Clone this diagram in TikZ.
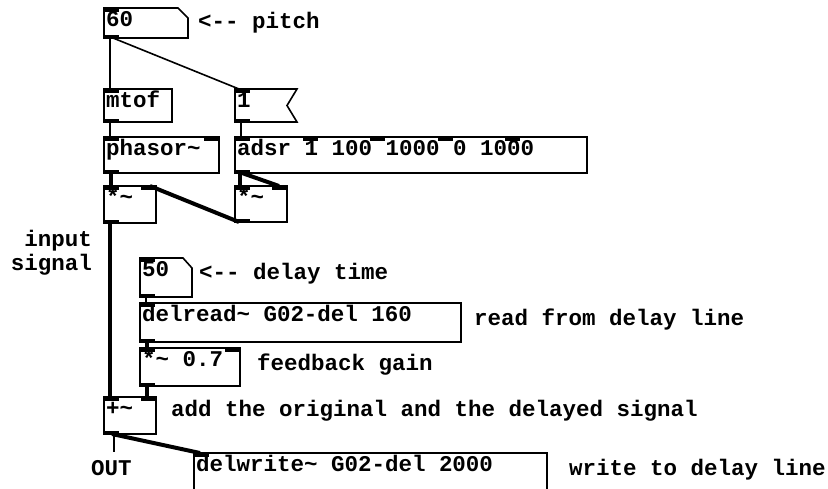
\documentclass[tikz,border=0pt]{standalone}
\usepackage{fontspec}
\newfontfamily\pdfont{Liberation Mono}
\usetikzlibrary{positioning}

\begin{document}
\begin{tikzpicture}[
    x=1pt, y=-1pt,
    obj/.style={
        draw=black,
        line width=1.6pt,
        anchor=north west,
        outer sep=0pt,
        inner xsep=2pt,
        inner ysep=0pt,
        text height=18pt,
        align=flush left,
        font=\pdfont\bfseries\fontsize{22.5}{24}\selectfont
    },
    flagbox/.style={obj, draw=none},
    outline/.style={draw=black, line width=1.6pt},
    cmt/.style={
        anchor=base west,
        inner sep=0pt,
        font=\pdfont\bfseries\fontsize{22.5}{24}\selectfont
    },
    wire/.style={line width=1.6pt},
    sigwire/.style={line width=4pt}
]
\useasboundingbox (0,0) rectangle (828,488);

% objects
\node (num60) [flagbox, text width=80pt, text depth=12pt] at (104,8) {60};
\node (mtof) [obj, text width=64pt, text depth=15pt] at (104,89) {mtof};
\node (msg1) [flagbox, text width=58pt, text depth=15pt] at (235,89) {1};
\node (phasor) [obj, text width=111pt, text depth=18pt] at (104,137) {phasor\textasciitilde};
\node (adsr) [obj, text width=348pt, text depth=18pt] at (235,137) {adsr 1 100 1000 0 1000};
\node (mulL) [obj, text width=48pt, text depth=19pt] at (104,186) {*\textasciitilde};
\node (mulR) [obj, text width=48pt, text depth=18pt] at (235,186) {*\textasciitilde};
\node (num50) [flagbox, text width=48pt, text depth=21pt] at (140,258) {50};
\node (delread) [obj, text width=317pt, text depth=21pt] at (140,303) {delread\textasciitilde{} G02-del 160};
\node (mul07) [obj, text width=96pt, text depth=20pt] at (140,348) {*\textasciitilde{} 0.7};
\node (plus) [obj, text width=48pt, text depth=19pt] at (104,397) {+\textasciitilde};
\node (delwrite) [obj, text width=349pt, text depth=32pt] at (194,453) {delwrite\textasciitilde{} G02-del 2000};

% number and message box outlines
\draw [outline] (num60.north west) -- ([xshift=-10pt]num60.north east) -- ([yshift=-10pt]num60.north east)
    -- (num60.south east) -- (num60.south west) -- cycle;
\draw [outline] (num50.north west) -- ([xshift=-9pt]num50.north east) -- ([yshift=-10pt]num50.north east)
    -- (num50.south east) -- (num50.south west) -- cycle;
\draw [outline] (msg1.north west) -- (msg1.north east) -- ([xshift=-10pt]msg1.east)
    -- (msg1.south east) -- (msg1.south west) -- cycle;

% inlets and outlets
\foreach \o in {num60,mtof,msg1,phasor,adsr,mulL,mulR,num50,delread,mul07,plus,delwrite}
    \fill (\o.north west) rectangle ++(15,3.5);
\foreach \o in {num60,mtof,msg1,phasor,adsr,mulL,mulR,num50,delread,mul07,plus}
    \fill (\o.south west) rectangle ++(15,-3.5);
\foreach \o in {phasor,mulL,mulR,mul07,plus}
    \fill (\o.north east) rectangle ++(-15,3.5);
\foreach \k in {1,...,4}
    \fill ([xshift=\k*67.6pt]adsr.north west) rectangle ++(15,3.5);

% comments
\node (cpitch) [cmt] at (198,28) {<-{}- pitch};
\node (cin) [cmt, anchor=base east] at (92,246) {input};
\node (csig) [cmt, anchor=base east] at (92,270) {signal};
\node (cdelay) [cmt] at (199,279) {<-{}- delay time};
\node (cread) [cmt] at (474,325) {read from delay line};
\node (cgain) [cmt] at (257,370) {feedback gain};
\node (cadd) [cmt] at (171,416) {add the original and the delayed signal};
\node (cout) [cmt] at (91,475) {OUT};
\node (cwrite) [cmt] at (569,475) {write to delay line};
\coordinate (dac) at (114,452);

% connections
\draw [wire] ([xshift=6pt]num60.south west) -- ([xshift=6pt]mtof.north west);
\draw [wire] ([xshift=9pt]num60.south west) -- ([xshift=4pt]msg1.north west);
\draw [wire] ([xshift=6pt]mtof.south west) -- ([xshift=6pt]phasor.north west);
\draw [wire] ([xshift=6pt]msg1.south west) -- ([xshift=6pt]adsr.north west);
\draw [sigwire] ([xshift=7pt]phasor.south west) -- ([xshift=7pt]mulL.north west);
\draw [sigwire] ([xshift=5pt]adsr.south west) -- ([xshift=5pt]mulR.north west);
\draw [sigwire] ([xshift=7pt]adsr.south west) -- ([xshift=-8pt]mulR.north east);
\draw [sigwire] ([xshift=4pt]mulR.south west) -- ([xshift=-6pt]mulL.north east);
\draw [sigwire] ([xshift=6pt]mulL.south west) -- ([xshift=6pt]plus.north west);
\draw [wire] ([xshift=6pt]num50.south west) -- ([xshift=6pt]delread.north west);
\draw [sigwire] ([xshift=7pt]delread.south west) -- ([xshift=7pt]mul07.north west);
\draw [sigwire] ([xshift=7pt]mul07.south west) -- ([xshift=-9pt]plus.north east);
\draw [sigwire] ([xshift=8pt]plus.south west) -- ([xshift=6pt]delwrite.north west);
\draw [wire] ([xshift=10pt]plus.south west) -- (dac);
\end{tikzpicture}
\end{document}
